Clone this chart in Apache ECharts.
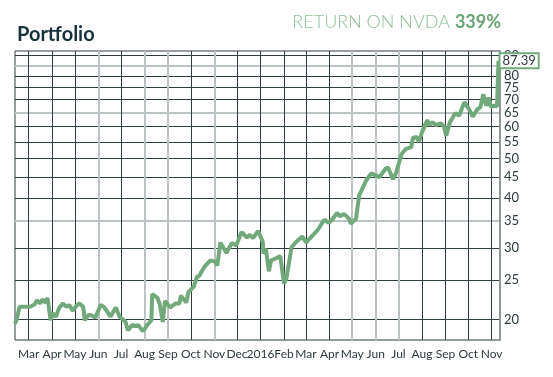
<!DOCTYPE html>
<html lang="en">
<head>
  <meta charset="UTF-8">
  <title>Portfolio</title>
  <script src="https://cdn.jsdelivr.net/npm/echarts@6/dist/echarts.min.js"></script>
</head>
<body style="margin:0">
  <div id="chart" style="width: 553px;height: 377px;"></div>
  <script>
    const myChart = echarts.init(document.getElementById('chart'))

    // NVDA closing prices
    const dates = [
      '2015-02-11', '2015-02-13', '2015-02-17', '2015-03-03', '2015-03-09', '2015-03-12', '2015-03-16', '2015-03-19',
      '2015-03-23', '2015-03-26', '2015-03-30', '2015-04-02', '2015-04-06', '2015-04-10', '2015-04-15', '2015-04-20',
      '2015-04-24', '2015-04-28', '2015-05-04', '2015-05-07', '2015-05-12', '2015-05-14', '2015-05-19', '2015-05-22',
      '2015-05-28', '2015-06-04', '2015-06-08', '2015-06-12', '2015-06-17', '2015-06-24', '2015-06-29', '2015-07-02',
      '2015-07-07', '2015-07-10', '2015-07-16', '2015-07-20', '2015-07-23', '2015-07-30', '2015-08-05', '2015-08-10',
      '2015-08-11', '2015-08-18', '2015-08-21', '2015-08-25', '2015-08-28', '2015-09-04', '2015-09-08', '2015-09-11',
      '2015-09-16', '2015-09-18', '2015-09-25', '2015-09-28', '2015-10-05', '2015-10-09', '2015-10-12', '2015-10-14',
      '2015-10-19', '2015-10-27', '2015-11-02', '2015-11-05', '2015-11-09', '2015-11-17', '2015-11-24', '2015-11-30',
      '2015-12-07', '2015-12-14', '2015-12-18', '2015-12-22', '2015-12-29', '2016-01-04', '2016-01-05', '2016-01-08',
      '2016-01-12', '2016-01-15', '2016-01-21', '2016-01-27', '2016-02-01', '2016-02-04', '2016-02-11', '2016-02-17',
      '2016-02-25', '2016-03-01', '2016-03-16', '2016-03-25', '2016-03-31', '2016-04-05', '2016-04-11', '2016-04-15',
      '2016-04-20', '2016-04-27', '2016-04-29', '2016-05-06', '2016-05-10', '2016-05-19', '2016-05-26', '2016-06-06',
      '2016-06-14', '2016-06-17', '2016-06-24', '2016-06-28', '2016-06-30', '2016-07-05', '2016-07-11', '2016-07-18',
      '2016-07-20', '2016-07-25', '2016-07-28', '2016-08-01', '2016-08-08', '2016-08-11', '2016-08-15', '2016-08-19',
      '2016-08-26', '2016-08-30', '2016-09-02', '2016-09-07', '2016-09-14', '2016-09-19', '2016-09-26', '2016-10-03',
      '2016-10-07', '2016-10-13', '2016-10-17', '2016-10-21', '2016-10-25', '2016-10-28', '2016-10-31', '2016-11-04',
      '2016-11-08', '2016-11-10'
    ]
    const prices = [
      19.5, 19.9, 21.5, 21.5, 21.8, 22.3, 21.9, 22.4,
      22.0, 22.6, 19.9, 20.7, 20.3, 21.3, 21.9, 21.5,
      21.7, 21.0, 21.7, 21.9, 21.5, 19.9, 20.5, 20.5,
      20.2, 21.7, 21.5, 21.0, 20.3, 21.4, 20.3, 20.1,
      19.7, 18.8, 19.4, 19.2, 19.4, 18.7, 19.4, 19.9,
      23.1, 22.6, 21.8, 19.7, 22.2, 21.4, 21.7, 21.9,
      21.9, 22.9, 22.0, 23.4, 24.1, 25.5, 25.6, 26.0,
      27.0, 28.0, 27.8, 27.2, 31.0, 29.2, 30.9, 30.5,
      32.9, 31.9, 32.4, 31.8, 33.1, 31.1, 29.1, 29.9,
      26.3, 28.0, 28.3, 28.7, 24.5, 25.2, 30.2, 31.1,
      32.1, 31.0, 33.2, 35.3, 34.7, 35.4, 36.7, 36.0,
      36.5, 35.5, 34.5, 35.5, 40.5, 44.0, 46.0, 45.0,
      47.2, 47.6, 44.5, 46.2, 45.8, 51.3, 52.9, 53.4,
      56.3, 56.6, 55.0, 58.1, 62.3, 60.6, 61.6, 60.6,
      61.1, 60.1, 57.0, 61.6, 64.8, 63.9, 69.0, 65.9,
      63.5, 66.3, 67.0, 72.2, 67.6, 70.9, 67.2, 67.6,
      67.4, 87.39
    ]

    // month grid lines Mar 2015 .. Nov 2016; 1 = lighter line
    const monthShade = [0, 0, 0, 1, 0, 1, 1, 0, 1, 0, 0, 0, 0, 0, 1, 1, 1, 0, 0, 0, 0]

    const yTicks = [20, 25, 30, 35, 40, 45, 50, 55, 60, 65, 70, 75, 80, 85, 90]
    const lightY = [35, 65, 85]
    const darkY = yTicks.filter(v => !lightY.includes(v))

    const ts = d => new Date(d + 'T00:00:00').getTime()

    const darkLine = '#2e3d40'
    const lightLine = '#bcc3c4'
    const none = 'rgba(0,0,0,0)'
    const green = '#72a97c'
    const xMin = ts('2015-02-11')
    const xMax = ts('2016-11-12')
    const yMin = 17.78
    const yMax = 92.4
    const month = 30 * 24 * 3600 * 1000

    // the time axis puts one extra tick at its left edge, hence the leading entry
    const darkColors = [none].concat(monthShade.map(s => s ? none : darkLine))
    const lightColors = [none].concat(monthShade.map(s => s ? lightLine : none))

    const option = {
      animation: false,
      title: [
        {
          text: 'Portfolio',
          left: 12,
          top: 20,
          textStyle: { fontFamily: 'Lato', fontWeight: 'bold', fontSize: 20, color: '#17323a' }
        },
        {
          text: '{a|RETURN ON NVDA} {b|339%}',
          right: 47,
          top: 8,
          textStyle: {
            rich: {
              a: { fontFamily: 'Lato', fontWeight: 300, fontSize: 18, color: '#8dbf97' },
              b: { fontFamily: 'Lato', fontWeight: 'bold', fontSize: 18, color: '#6aa577' }
            }
          }
        }
      ],
      grid: {
        left: 15, right: 53, top: 51, height: 289,
        show: true, borderColor: darkLine, borderWidth: 1
      },
      xAxis: [
        {
          type: 'time',
          min: xMin,
          max: xMax,
          minInterval: month,
          maxInterval: month,
          axisLine: { show: false },
          axisTick: { show: false },
          axisLabel: {
            fontFamily: 'Lato',
            fontSize: 12,
            color: '#2c3a3d',
            margin: 8,
            hideOverlap: false,
            formatter: { year: '{yyyy}', month: '{MMM}', day: '{MMM}' }
          },
          splitLine: { show: true, lineStyle: { color: darkColors, width: 1 } }
        },
        {
          type: 'time',
          min: xMin,
          max: xMax,
          minInterval: month,
          maxInterval: month,
          position: 'bottom',
          axisLine: { show: false },
          axisTick: { show: false },
          axisLabel: { show: false },
          splitLine: { show: true, lineStyle: { color: lightColors, width: 2 } }
        }
      ],
      yAxis: [
        {
          type: 'log',
          position: 'right',
          min: yMin,
          max: yMax,
          axisLine: { show: true, lineStyle: { color: '#8f9799', width: 2 } },
          axisTick: { show: false, customValues: darkY },
          axisLabel: {
            customValues: yTicks,
            showMaxLabel: true,
            fontFamily: 'Lato',
            fontSize: 13,
            color: '#2c3a3d',
            margin: 4
          },
          splitLine: { show: true, lineStyle: { color: darkLine, width: 1 } }
        },
        {
          type: 'log',
          position: 'right',
          min: yMin,
          max: yMax,
          axisLine: { show: false },
          axisTick: { show: false, customValues: lightY },
          axisLabel: { show: false },
          splitLine: { show: true, lineStyle: { color: lightLine, width: 2 } }
        }
      ],
      series: [
        {
          type: 'line',
          xAxisIndex: 0,
          yAxisIndex: 0,
          data: dates.map((d, i) => [ts(d), prices[i]]),
          showSymbol: false,
          lineStyle: { color: green, width: 4 },
          endLabel: {
            show: true,
            formatter: p => p.value[1].toFixed(2),
            fontFamily: 'Lato',
            fontSize: 13,
            color: '#2c3a3d',
            backgroundColor: '#fff',
            borderColor: green,
            borderWidth: 2,
            padding: [0, 2, 0, 2],
            distance: 2
          }
        }
      ]
    }

    myChart.setOption(option)
  </script>
</body>
</html>
